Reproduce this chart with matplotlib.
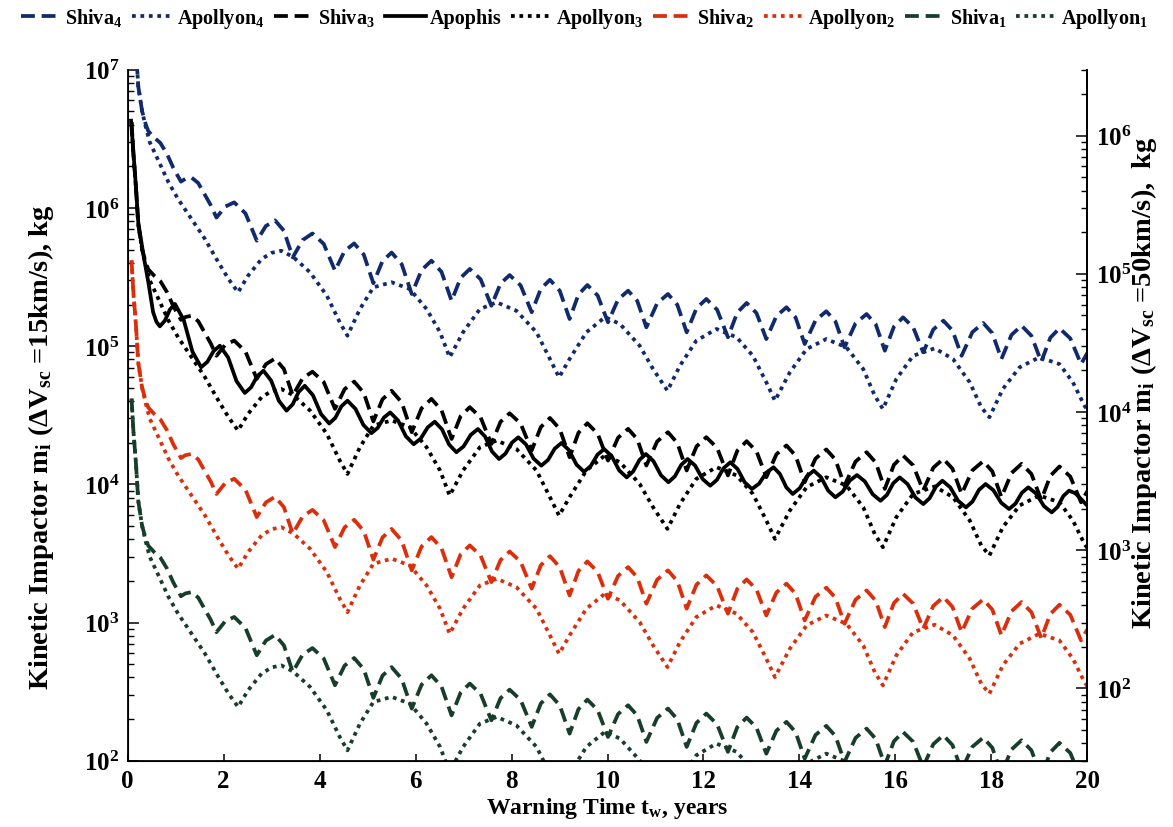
import numpy as np
import matplotlib
matplotlib.use("Agg")
import matplotlib.pyplot as plt
from matplotlib.ticker import FixedLocator, FixedFormatter, LogLocator, NullFormatter

plt.rcParams["font.family"] = ["Liberation Serif", "DejaVu Serif"]
plt.rcParams["font.weight"] = "bold"
plt.rcParams["mathtext.fontset"] = "custom"
plt.rcParams["mathtext.rm"] = "Liberation Serif:bold"
plt.rcParams["mathtext.it"] = "Liberation Serif:bold"
plt.rcParams["mathtext.bf"] = "Liberation Serif:bold"

# ---------------------------------------------------------------------------
# Data: warning time (years) and log10 of impactor mass (kg) for the
# smallest asteroid of each family; larger family members scale by 10x.
# ---------------------------------------------------------------------------
shiva_t = [0.08, 0.12, 0.17, 0.22, 0.30, 0.38, 0.43, 0.55, 0.68, 0.82, 0.95, 1.11,
           1.20, 1.33, 1.47, 1.60, 1.73,
           1.85, 2.035, 2.22, 2.455, 2.69, 2.88, 3.07, 3.255, 3.44, 3.645, 3.85, 4.085,
           4.32, 4.52, 4.72, 4.92, 5.12, 5.31, 5.50, 5.71, 5.92, 6.125, 6.33, 6.54,
           6.75, 6.94, 7.13, 7.355, 7.58, 7.77, 7.96, 8.19, 8.42, 8.61, 8.80, 9.005,
           9.21, 9.395, 9.58, 9.795, 10.01, 10.22, 10.43, 10.62, 10.81, 11.035, 11.26, 11.455,
           11.65, 11.855, 12.06, 12.285, 12.51, 12.705, 12.90, 13.105, 13.31, 13.52, 13.73, 13.92,
           14.11, 14.335, 14.56, 14.75, 14.94, 15.17, 15.40, 15.59, 15.78, 15.97, 16.16, 16.37,
           16.58, 16.79, 17.00, 17.19, 17.38, 17.605, 17.83, 18.02, 18.21, 18.42, 18.63, 18.835,
           19.04, 19.23, 19.42, 19.645, 19.87, 20.0]
shiva1_log_kg = [4.62, 4.38, 4.16, 3.88, 3.70, 3.60, 3.555, 3.51, 3.47, 3.39, 3.29, 3.19,
                 3.21, 3.22, 3.18, 3.10, 3.02,
                 2.93, 3.01, 3.04, 2.96, 2.763, 2.869, 2.91, 2.835, 2.642, 2.767, 2.815, 2.74,
                 2.546, 2.688, 2.743, 2.662, 2.455, 2.615, 2.677, 2.593, 2.377, 2.55, 2.618, 2.537,
                 2.328, 2.494, 2.558, 2.484, 2.292, 2.452, 2.514, 2.439, 2.245, 2.414, 2.48, 2.40,
                 2.196, 2.373, 2.442, 2.366, 2.172, 2.337, 2.401, 2.327, 2.136, 2.31, 2.377, 2.299,
                 2.10, 2.274, 2.341, 2.263, 2.064, 2.243, 2.312, 2.239, 2.051, 2.217, 2.281, 2.207,
                 2.015, 2.186, 2.252, 2.179, 1.991, 2.165, 2.232, 2.158, 1.967, 2.141, 2.208, 2.137,
                 1.955, 2.12, 2.184, 2.113, 1.93, 2.101, 2.167, 2.094, 1.907, 2.081, 2.148, 2.075,
                 1.887, 2.061, 2.129, 2.056, 1.87, 1.95]

apollyon_t = [0.08, 0.12, 0.17, 0.22, 0.30, 0.38, 0.46, 0.64, 0.85, 1.05, 1.33, 1.61, 1.89, 2.10, 2.30,
              2.51, 2.79, 3.0, 3.2, 3.45, 3.8, 4.15, 4.42, 4.58,
              4.84, 5.12, 5.5, 5.88, 6.23, 6.51, 6.71,
              6.99, 7.34, 7.69, 8.1, 8.52, 8.8, 8.99,
              9.21, 9.56, 9.95, 10.26, 10.67, 10.95, 11.25,
              11.51, 11.85, 12.27, 12.69, 13.03, 13.31, 13.49,
              13.8, 14.15, 14.56, 14.98, 15.33, 15.57, 15.74,
              16.02, 16.37, 16.82, 17.2, 17.55, 17.79, 17.96,
              18.24, 18.59, 19.0, 19.42, 19.7, 19.94, 20.0]
apollyon1_log_kg = [4.62, 4.38, 4.16, 3.88, 3.70, 3.58, 3.475, 3.342, 3.185, 3.064, 2.92, 2.775, 2.606, 2.486, 2.389,
                    2.51, 2.63, 2.675, 2.69, 2.645, 2.534, 2.365, 2.172, 2.075,
                    2.268, 2.425, 2.462, 2.413, 2.268, 2.10, 1.919,
                    2.10, 2.268, 2.317, 2.256, 2.10, 1.907, 1.774,
                    1.907, 2.10, 2.21, 2.16, 2.003, 1.834, 1.677,
                    1.858, 2.039, 2.124, 2.064, 1.93, 1.738, 1.605,
                    1.81, 1.979, 2.051, 1.991, 1.834, 1.641, 1.545,
                    1.762, 1.93, 1.984, 1.907, 1.738, 1.557, 1.485,
                    1.69, 1.847, 1.919, 1.87, 1.738, 1.569, 1.54]

apophis_t = [0.07, 0.11, 0.15, 0.22, 0.33, 0.43, 0.53, 0.60, 0.67,
             0.775, 0.88, 0.985, 1.167, 1.348, 1.53,
             1.66, 1.79, 1.92, 2.093, 2.267, 2.44,
             2.57, 2.70, 2.83, 2.99, 3.15, 3.31,
             3.437, 3.563, 3.69, 3.86, 4.03, 4.20,
             4.327, 4.453, 4.58, 4.747, 4.913, 5.08,
             5.21, 5.34, 5.47, 5.633, 5.797, 5.96,
             6.107, 6.253, 6.40, 6.55, 6.70, 6.85,
             7.0, 7.15, 7.30, 7.447, 7.593, 7.74,
             7.873, 8.007, 8.14, 8.30, 8.46, 8.62,
             8.76, 8.90, 9.04, 9.197, 9.353, 9.51,
             9.65, 9.79, 9.93, 10.087, 10.243, 10.40,
             10.533, 10.667, 10.80, 10.957, 11.113, 11.27,
             11.403, 11.537, 11.67, 11.827, 11.983, 12.14,
             12.28, 12.42, 12.56, 12.71, 12.86, 13.01,
             13.16, 13.31, 13.46, 13.593, 13.727, 13.86,
             14.007, 14.153, 14.30, 14.45, 14.60, 14.75,
             14.90, 15.05, 15.20, 15.363, 15.527, 15.69,
             15.823, 15.957, 16.09, 16.253, 16.417, 16.58,
             16.713, 16.847, 16.98, 17.143, 17.307, 17.47,
             17.607, 17.743, 17.88, 18.043, 18.207, 18.37,
             18.503, 18.637, 18.77, 18.933, 19.097, 19.26,
             19.38, 19.50, 19.62, 19.75, 19.88, 20.0]
apophis_log_kg = [6.631, 6.44, 6.258, 5.896, 5.654, 5.462, 5.245, 5.175, 5.143,
                  5.184, 5.265, 5.305, 5.19, 4.961, 4.847,
                  4.886, 4.964, 5.003, 4.918, 4.747, 4.661,
                  4.701, 4.782, 4.822, 4.75, 4.605, 4.533,
                  4.578, 4.668, 4.713, 4.645, 4.508, 4.44,
                  4.481, 4.564, 4.605, 4.546, 4.429, 4.37,
                  4.408, 4.483, 4.52, 4.463, 4.348, 4.29,
                  4.331, 4.412, 4.453, 4.398, 4.287, 4.232,
                  4.274, 4.358, 4.40, 4.346, 4.237, 4.183,
                  4.222, 4.301, 4.34, 4.289, 4.186, 4.135,
                  4.176, 4.258, 4.299, 4.247, 4.143, 4.091,
                  4.132, 4.214, 4.255, 4.204, 4.101, 4.05,
                  4.092, 4.177, 4.219, 4.168, 4.066, 4.015,
                  4.057, 4.141, 4.183, 4.135, 4.038, 3.99,
                  4.032, 4.117, 4.159, 4.111, 4.014, 3.966,
                  4.005, 4.084, 4.123, 4.075, 3.978, 3.93,
                  3.972, 4.057, 4.099, 4.051, 3.954, 3.906,
                  3.946, 4.027, 4.067, 4.021, 3.928, 3.881,
                  3.923, 4.008, 4.05, 4.002, 3.905, 3.857,
                  3.899, 3.984, 4.026, 3.978, 3.881, 3.833,
                  3.875, 3.96, 4.002, 3.957, 3.866, 3.821,
                  3.86, 3.939, 3.978, 3.933, 3.842, 3.797,
                  3.836, 3.915, 3.954, 3.935, 3.89, 3.845]

# size index of each family member -> mass multiplier relative to member 1
family_index = [4, 3, 2, 1]
family_multiplier = [1000, 100, 10, 1]
family_colors = ["#102a6c", "#000000", "#dd2e0c", "#173d2b"]

dv_ratio = 15.0 / 50.0      # right axis: same momentum at 50 km/s

x_ticks = [0, 2, 4, 6, 8, 10, 12, 14, 16, 18, 20]
left_ticks = [1e2, 1e3, 1e4, 1e5, 1e6, 1e7]
left_tick_labels = [r"$10^{2}$", r"$10^{3}$", r"$10^{4}$", r"$10^{5}$", r"$10^{6}$", r"$10^{7}$"]
right_ticks = [1e2, 1e3, 1e4, 1e5, 1e6]
right_tick_labels = [r"$10^{2}$", r"$10^{3}$", r"$10^{4}$", r"$10^{5}$", r"$10^{6}$"]

# ---------------------------------------------------------------------------
fig = plt.figure(figsize=(11.73, 8.28), dpi=100)
ax = fig.add_axes([0.10887, 0.08007, 0.81807, 0.83454])

LW = 2.7
DASH = (3.7, 1.8)
DOT = (1.0, 1.25)

shiva_base = 10 ** np.array(shiva1_log_kg)
apollyon_base = 10 ** np.array(apollyon1_log_kg)
apophis_mass = 10 ** np.array(apophis_log_kg)

handles = {}
for idx, mult, col in zip(family_index, family_multiplier, family_colors):
    h_s, = ax.plot(shiva_t, shiva_base * mult, color=col, lw=LW, dashes=DASH,
                   dash_capstyle="butt", label=rf"Shiva$_{{{idx}}}$")
    h_a, = ax.plot(apollyon_t, apollyon_base * mult, color=col, lw=LW, dashes=DOT,
                   dash_capstyle="butt", label=rf"Apollyon$_{{{idx}}}$")
    handles[f"s{idx}"] = h_s
    handles[f"a{idx}"] = h_a

h_ap, = ax.plot(apophis_t, apophis_mass, color="black", lw=LW, label="Apophis")

ax.set_yscale("log")
ax.set_xlim(0, 20)
ax.set_ylim(1e2, 1e7)

ax.xaxis.set_major_locator(FixedLocator(x_ticks))
ax.yaxis.set_major_locator(FixedLocator(left_ticks))
ax.yaxis.set_major_formatter(FixedFormatter(left_tick_labels))
ax.yaxis.set_minor_locator(LogLocator(base=10, subs=np.arange(2, 10), numticks=20))
ax.yaxis.set_minor_formatter(NullFormatter())

ax.spines["top"].set_visible(False)
for s in ("left", "bottom", "right"):
    ax.spines[s].set_linewidth(1.3)
ax.tick_params(axis="both", which="major", direction="in", length=8, width=1.1,
               labelsize=18, pad=6)
ax.tick_params(axis="y", which="minor", direction="in", length=4.5, width=1.0)
ax.tick_params(axis="x", which="major", length=5)
ax.tick_params(right=False, top=False, which="both")

ax.set_xlabel(r"Warning Time t$_w$, years", fontsize=17, fontweight="bold")
ax.xaxis.set_label_coords(0.5, -0.05)
ax.set_ylabel(r"Kinetic Impactor m$_i$ ($\Delta$V$_{sc}$ =15km/s), kg",
              fontsize=20.5, fontweight="bold")
ax.yaxis.set_label_coords(-0.075, 0.455)

# right axis in the 50 km/s mass units
ax2 = ax.twinx()
ax2.set_yscale("log")
ax2.set_ylim(1e2 * dv_ratio, 1e7 * dv_ratio)
ax2.yaxis.set_major_locator(FixedLocator(right_ticks))
ax2.yaxis.set_major_formatter(FixedFormatter(right_tick_labels))
ax2.yaxis.set_minor_locator(LogLocator(base=10, subs=np.arange(2, 10), numticks=20))
ax2.yaxis.set_minor_formatter(NullFormatter())
ax2.spines["top"].set_visible(False)
ax2.spines["right"].set_linewidth(1.3)
ax2.tick_params(axis="y", which="major", direction="in", length=8, width=1.1,
                labelsize=18, pad=6)
ax2.tick_params(axis="y", which="minor", direction="in", length=4.5, width=1.0)
ax2.set_ylabel(r"Kinetic Impactor m$_i$ ($\Delta$V$_{sc}$ =50km/s),  kg",
               fontsize=20.5, fontweight="bold", rotation=90)
ax2.yaxis.set_label_coords(1.043, 0.548)

order = [handles["s4"], handles["a4"], handles["s3"], h_ap, handles["a3"],
         handles["s2"], handles["a2"], handles["s1"], handles["a1"]]
fig.legend(handles=order, labels=[h.get_label() for h in order],
           loc="upper center", bbox_to_anchor=(0.498, 1.006), ncol=9, frameon=False,
           fontsize=14.5, handlelength=2.0, handletextpad=0.2, columnspacing=0.5,
           borderaxespad=0.2)

fig.savefig("out.png", dpi=100)
